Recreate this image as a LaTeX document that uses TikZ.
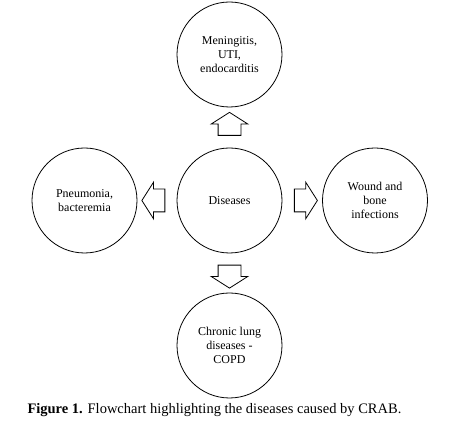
\documentclass[tikz,border=0pt]{standalone}
\usepackage{fontspec}
\setmainfont{Liberation Serif}
\usepackage{tikz}
\usetikzlibrary{shapes.arrows}
\usetikzlibrary{calc}

\begin{document}
\begin{tikzpicture}[x=1pt,y=1pt,
		disease/.style={draw,circle,line width=.8pt,minimum size=105pt,
			inner sep=0pt,align=center,font=\fontsize{12}{14}\selectfont},
		blockarrow/.style={draw,single arrow,line width=.8pt,
			minimum height=23pt,inner xsep=0pt,inner ysep=11pt,
			single arrow head extend=7pt,single arrow tip angle=115}]
		\useasboundingbox (0,0) rectangle (467,425);
		
		\node[disease] (dis) at (229.5,224.5) {Diseases};
		
		\node[disease] (top) at (229.5,370.5) {Meningitis,\\UTI,\\endocarditis};
		
		\node[disease] (low) at (229.5,79.5) {Chronic lung\\diseases -\\COPD};
		
		\node[disease] (lft) at (84.5,224.5) {Pneumonia,\\bacteremia};
		
		\node[disease] (rgt) at (375,224.5) {Wound and\\bone\\infections};
		
		\node[blockarrow,rotate=90] (up) at ($(dis)!.5!(top)$) {};
		
		\node[blockarrow,rotate=-90] (down) at ($(dis)!.5!(low)$) {};
		
		\node[blockarrow,rotate=180] (west) at ($(dis)!.5!(lft)$) {};
		
		\node[blockarrow] (east) at ($(dis)!.5!(rgt)$) {};
		
		\node[anchor=base west,font=\fontsize{14.5}{17}\selectfont] (cap) at (24,11)
		{\textbf{Figure 1.} Flowchart highlighting the diseases caused by CRAB.};
	\end{tikzpicture}
\end{document}
